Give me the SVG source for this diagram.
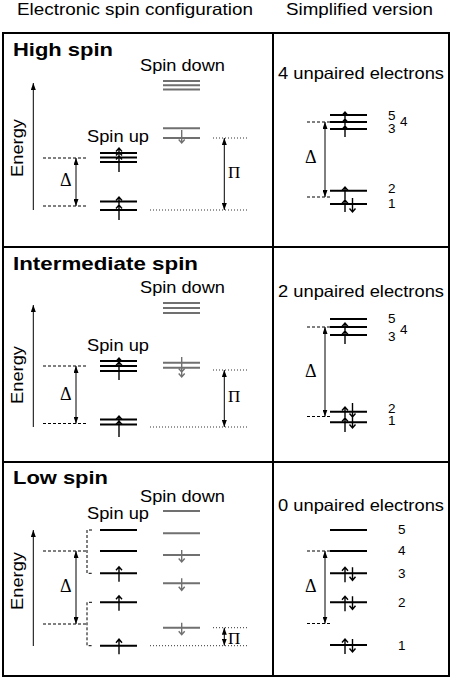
<svg xmlns="http://www.w3.org/2000/svg" width="452" height="678" viewBox="0 0 452 678">
<style>
text{font-family:"Liberation Sans",Arial,sans-serif;fill:#000}
.h{font-size:16.5px}
.t{font-size:19px;font-weight:bold}
.d{font-size:13.5px}
.g{font-family:"Liberation Serif","Times New Roman",serif;font-size:18px}
.p{font-family:"Liberation Serif","Times New Roman",serif;font-size:17px}
.lv{stroke:#000;stroke-width:2;fill:none}
.lg{stroke:#707070;stroke-width:2;fill:none}
.e{stroke:#000;stroke-width:1.4;fill:none}
.eg{stroke:#707070;stroke-width:1.4;fill:none}
.ds{stroke:#000;stroke-width:1;stroke-dasharray:3 2;fill:none}
.dt{stroke:#333;stroke-width:1;stroke-dasharray:1 2;fill:none}
.ar{stroke:#000;stroke-width:1;fill:none;marker-end:url(#ah)}
.ar2{stroke:#000;stroke-width:1;fill:none;marker-start:url(#ah);marker-end:url(#ah)}
.frame{stroke:#000;stroke-width:2;fill:none}
</style>
<defs>
<marker id="ah" viewBox="0 0 7 5" refX="7" refY="2.5" markerWidth="7" markerHeight="5" markerUnits="userSpaceOnUse" orient="auto-start-reverse">
<path d="M0,0 L7,2.5 L0,5 z" fill="#000"/>
</marker>
</defs>
<rect fill="#fff" x="0" y="0" width="452" height="678"/>

<g id="headers">
<text class="h" x="17" y="15" textLength="236" lengthAdjust="spacingAndGlyphs">Electronic spin configuration</text>
<text class="h" x="286" y="15" textLength="147" lengthAdjust="spacingAndGlyphs">Simplified version</text>
</g>

<g id="table">
<rect class="frame" x="3" y="33" width="446" height="643"/>
<path class="frame" d="M273,33 V676 M3,247 H449 M3,462 H449"/>
</g>

<!-- HIGH SPIN -->
<g id="high-spin">
<text class="t" x="13" y="56" textLength="100" lengthAdjust="spacingAndGlyphs">High spin</text>
<text class="h" x="140" y="71" textLength="85" lengthAdjust="spacingAndGlyphs">Spin down</text>
<text class="h" x="87" y="142" textLength="62" lengthAdjust="spacingAndGlyphs">Spin up</text>
<text class="h" transform="translate(23,148) rotate(-90)" text-anchor="middle" textLength="58" lengthAdjust="spacingAndGlyphs">Energy</text>
<path class="lg" d="M163,81 H200 M163,85.3 H200 M163,89.6 H200 M163,128.3 H200 M163,138 H200"/>
<path class="lv" d="M100,153 H137 M100,157.5 H137 M100,162 H137 M100,201.5 H137 M100,210 H137"/>
<path class="e" d="M119,148 V172 M116,151.5 L119,148 L122,151.5 M116,155.5 L119,152 L122,155.5 M116,159.5 L119,156 L122,159.5"/>
<path class="e" d="M119,197 V220 M116,200.5 L119,197 L122,200.5 M116,208.5 L119,205 L122,208.5"/>
<path class="eg" d="M181.7,130 V143 M178.7,139.5 L181.7,143 L184.7,139.5"/>
<path class="ds" d="M43,158 H87 M43,206 H87"/>
<path class="dt" d="M213,138 H247 M150,210 H247"/>
<text class="g" x="60" y="186">Δ</text>
<text class="p" x="228" y="178">Π</text>
</g>

<g id="high-spin-simplified">
<text class="h" x="278" y="79" textLength="166" lengthAdjust="spacingAndGlyphs">4 unpaired electrons</text>
<path class="lv" d="M330,115 H367 M330,122 H367 M330,129 H367 M330,190.7 H367 M330,204 H367"/>
<path class="e" d="M345,112 V137 M342,115.5 L345,112 L348,115.5 M342,122.5 L345,119 L348,122.5 M342,129.5 L345,126 L348,129.5"/>
<path class="e" d="M345,187 V212 M342,190.5 L345,187 L348,190.5 M342,203.5 L345,200 L348,203.5"/>
<path class="e" d="M352.5,198 V212 M349.5,208.5 L352.5,212 L355.5,208.5"/>
<path class="ds" d="M307,122 H330 M307,197 H330"/>
<text class="g" x="305" y="162.5">Δ</text>
<text class="d" x="388" y="120">5</text>
<text class="d" x="388" y="133">3</text>
<text class="d" x="400" y="126">4</text>
<text class="d" x="388" y="193">2</text>
<text class="d" x="388" y="208">1</text>
</g>

<!-- INTERMEDIATE SPIN -->
<g id="intermediate-spin">
<text class="t" x="13" y="270" textLength="185" lengthAdjust="spacingAndGlyphs">Intermediate spin</text>
<text class="h" x="140" y="293" textLength="85" lengthAdjust="spacingAndGlyphs">Spin down</text>
<text class="h" x="87" y="351" textLength="62" lengthAdjust="spacingAndGlyphs">Spin up</text>
<text class="h" transform="translate(23,375) rotate(-90)" text-anchor="middle" textLength="58" lengthAdjust="spacingAndGlyphs">Energy</text>
<path class="lg" d="M163,303 H200 M163,308 H200 M163,313 H200 M163,362.7 H200 M163,367.7 H200"/>
<path class="lv" d="M100,361 H137 M100,366 H137 M100,371 H137 M100,419.5 H137 M100,424.5 H137"/>
<path class="e" d="M119,358 V380 M116,361.5 L119,358 L122,361.5 M116,365.5 L119,362 L122,365.5"/>
<path class="e" d="M119,416 V437 M116,419.5 L119,416 L122,419.5 M116,424.5 L119,421 L122,424.5"/>
<path class="eg" d="M181.7,357 V377 M178.7,368.5 L181.7,372 L184.7,368.5 M178.7,373.5 L181.7,377 L184.7,373.5"/>
<path class="ds" d="M43,366 H87 M43,423.5 H87"/>
<path class="dt" d="M213,370 H247 M150,427 H247"/>
<text class="g" x="60" y="400">Δ</text>
<text class="p" x="228" y="402">Π</text>
</g>

<g id="intermediate-spin-simplified">
<text class="h" x="278" y="297" textLength="166" lengthAdjust="spacingAndGlyphs">2 unpaired electrons</text>
<path class="lv" d="M330,319 H367 M330,327 H367 M330,335 H367 M330,411.7 H367 M330,422.3 H367"/>
<path class="e" d="M345,323 V344 M342,326.5 L345,323 L348,326.5 M342,334.5 L345,331 L348,334.5"/>
<path class="e" d="M345,407 V432 M342,410.5 L345,407 L348,410.5 M342,421.5 L345,418 L348,421.5"/>
<path class="e" d="M352.5,403 V428 M349.5,413.5 L352.5,417 L355.5,413.5 M349.5,424.5 L352.5,428 L355.5,424.5"/>
<path class="ds" d="M307,327 H330 M307,416.5 H330"/>
<text class="g" x="305" y="377">Δ</text>
<text class="d" x="388" y="323">5</text>
<text class="d" x="388" y="341">3</text>
<text class="d" x="400" y="334">4</text>
<text class="d" x="388" y="413">2</text>
<text class="d" x="388" y="425">1</text>
</g>

<!-- LOW SPIN -->
<g id="low-spin">
<text class="t" x="13" y="484" textLength="95" lengthAdjust="spacingAndGlyphs">Low spin</text>
<text class="h" x="140" y="501.5" textLength="85" lengthAdjust="spacingAndGlyphs">Spin down</text>
<text class="h" x="87" y="519" textLength="62" lengthAdjust="spacingAndGlyphs">Spin up</text>
<text class="h" transform="translate(23,581) rotate(-90)" text-anchor="middle" textLength="58" lengthAdjust="spacingAndGlyphs">Energy</text>
<path class="lg" d="M163,511 H200 M163,533.3 H200 M163,555 H200 M163,583.3 H200 M163,627.7 H200"/>
<path class="lv" d="M100,530 H137 M100,551 H137 M100,573.3 H137 M100,602.3 H137 M100,645.7 H137"/>
<path class="e" d="M119,566.8 V581.8 M116,570.3 L119,566.8 L122,570.3"/>
<path class="e" d="M119,595.8 V610.8 M116,599.3 L119,595.8 L122,599.3"/>
<path class="e" d="M119,639.2 V654.2 M116,642.7 L119,639.2 L122,642.7"/>
<path class="eg" d="M181.7,550 V562 M178.7,558.5 L181.7,562 L184.7,558.5"/>
<path class="eg" d="M181.7,578.3 V590.3 M178.7,586.8 L181.7,590.3 L184.7,586.8"/>
<path class="eg" d="M181.7,622.7 V634.7 M178.7,631.2 L181.7,634.7 L184.7,631.2"/>
<path class="ds" d="M92,530 H87 V573.3 H92 M92,602.3 H87 V645.7 H92 M43,551 H87 M43,624 H87"/>
<path class="dt" d="M213,627.7 H247 M150,645.7 H247"/>
<text class="g" x="60" y="592">Δ</text>
<text class="p" x="228" y="644">Π</text>
</g>

<g id="low-spin-simplified">
<text class="h" x="278" y="511" textLength="166" lengthAdjust="spacingAndGlyphs">0 unpaired electrons</text>
<path class="lv" d="M330,530 H367 M330,551 H367 M330,573.3 H367 M330,602.3 H367 M330,645 H367"/>
<path class="e" d="M345,567.3 V582.3 M342,570.8 L345,567.3 L348,570.8"/>
<path class="e" d="M345,596.3 V611.3 M342,599.8 L345,596.3 L348,599.8"/>
<path class="e" d="M345,639 V654 M342,642.5 L345,639 L348,642.5"/>
<path class="e" d="M352.5,567.3 V580.3 M349.5,576.8 L352.5,580.3 L355.5,576.8"/>
<path class="e" d="M352.5,596.3 V609.3 M349.5,605.8 L352.5,609.3 L355.5,605.8"/>
<path class="e" d="M352.5,639 V652 M349.5,648.5 L352.5,652 L355.5,648.5"/>
<path class="ds" d="M307,551 H330 M307,623.5 H330"/>
<text class="g" x="305" y="592">Δ</text>
<text class="d" x="398" y="534">5</text>
<text class="d" x="398" y="555">4</text>
<text class="d" x="398" y="577.5">3</text>
<text class="d" x="398" y="606.5">2</text>
<text class="d" x="398" y="649.5">1</text>
</g>

<g id="connectors">
<path class="ar" d="M33.3,210 V83"/>
<path class="ar" d="M33.3,427 V305"/>
<path class="ar" d="M33.3,646 V530"/>
<path class="ar2" d="M76,158 V206"/>
<path class="ar2" d="M76,366 V423.5"/>
<path class="ar2" d="M76,551 V624"/>
<path class="ar2" d="M224.3,138 V210"/>
<path class="ar2" d="M224.3,370 V427"/>
<path class="ar2" d="M224.3,627.7 V645.7"/>
<path class="ar2" d="M325,122 V197"/>
<path class="ar2" d="M325,327 V416.5"/>
<path class="ar2" d="M325,551 V623.5"/>
</g>
</svg>
